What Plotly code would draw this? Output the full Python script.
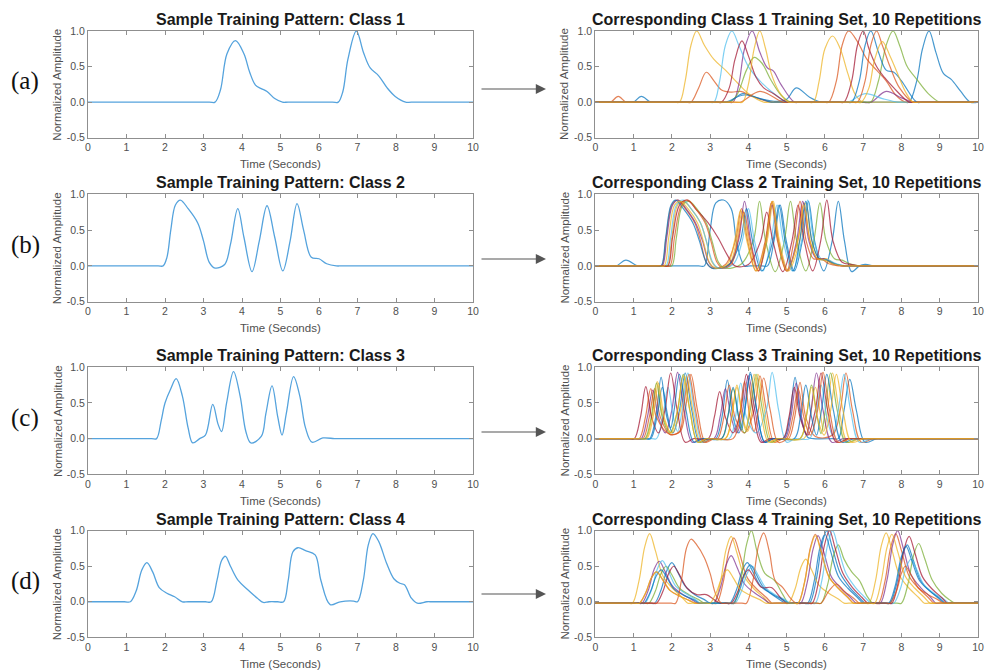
import plotly.graph_objects as go

# ---------------- data ----------------
time_ticks = [0, 1, 2, 3, 4, 5, 6, 7, 8, 9, 10]
amp_ticks = [-0.5, 0.0, 0.5, 1.0]
amp_tick_labels = ["-0.5", "0.0", "0.5", "1.0"]

left_titles = ["Sample Training Pattern: Class 1", "Sample Training Pattern: Class 2",
               "Sample Training Pattern: Class 3", "Sample Training Pattern: Class 4"]
right_titles = ["Corresponding Class 1 Training Set, 10 Repetitions",
                "Corresponding Class 2 Training Set, 10 Repetitions",
                "Corresponding Class 3 Training Set, 10 Repetitions",
                "Corresponding Class 4 Training Set, 10 Repetitions"]
panel_labels = ["(a)", "(b)", "(c)", "(d)"]
x_title = "Time (Seconds)"
y_title = "Normalized Amplitude"

class1_pattern = [(0,0),(3.15,0),(3.3,0),(3.44,0.17),(3.61,0.68),(3.83,0.865),(4.05,0.68),(4.2,0.42),(4.35,0.24),(4.5,0.19),(4.65,0.15),(4.85,0.05),(5.05,0),(5.2,0),(6.35,0),(6.5,0),(6.62,0.15),(6.75,0.6),(6.97,1.0),(7.16,0.69),(7.33,0.48),(7.55,0.37),(7.77,0.2),(7.98,0.08),(8.25,0),(8.4,0),(10,0)]
class2_pattern = [(0,0),(1.82,0),(1.95,0),(2.05,0.12),(2.15,0.5),(2.27,0.85),(2.4,0.92),(2.6,0.8),(2.85,0.6),(3.0,0.35),(3.15,0.05),(3.3,-0.03),(3.55,0.02),(3.7,0.3),(3.89,0.8),(4.05,0.4),(4.26,-0.08),(4.45,0.35),(4.65,0.84),(4.85,0.4),(5.06,-0.07),(5.25,0.35),(5.43,0.87),(5.6,0.5),(5.8,0.12),(6.0,0.1),(6.2,0.03),(6.45,0),(6.6,0),(10,0)]
class3_pattern = [(0,0),(1.65,0),(1.78,0),(1.9,0.25),(2.0,0.5),(2.15,0.7),(2.29,0.84),(2.45,0.6),(2.6,0.15),(2.72,-0.06),(2.9,0.0),(3.05,0.05),(3.24,0.48),(3.38,0.2),(3.47,0.1),(3.6,0.5),(3.78,0.94),(3.95,0.6),(4.1,0.1),(4.23,-0.06),(4.5,0.03),(4.62,0.35),(4.78,0.74),(4.93,0.3),(5.04,0.05),(5.15,0.35),(5.34,0.87),(5.5,0.6),(5.65,0.15),(5.82,-0.05),(6.1,0.01),(6.4,0),(6.55,0),(10,0)]
class4_pattern = [(0,0),(0.95,0),(1.1,0),(1.25,0.15),(1.4,0.45),(1.53,0.55),(1.68,0.42),(1.85,0.2),(2.05,0.12),(2.25,0.07),(2.45,0),(2.6,0),(3.05,0),(3.2,0),(3.35,0.3),(3.47,0.58),(3.57,0.64),(3.7,0.5),(3.9,0.3),(4.15,0.17),(4.4,0.05),(4.55,-0.01),(4.7,0),(4.93,0),(5.08,0),(5.2,0.3),(5.32,0.7),(5.45,0.76),(5.65,0.72),(5.9,0.66),(6.05,0.3),(6.29,-0.04),(6.55,0),(6.9,0.01),(7.0,0),(7.15,0.3),(7.28,0.8),(7.4,0.96),(7.55,0.85),(7.75,0.55),(7.95,0.32),(8.1,0.26),(8.22,0.24),(8.4,0.05),(8.55,-0.02),(8.8,0),(8.95,0),(10,0)]

class1_reps = [
    [(0,0),(0.85,0),(1.0,0),(1.2,0.08),(1.45,0),(1.6,0),(3.35,0),(3.5,0),(3.85,0.12),(4.3,0.05),(4.75,0.01),(5.0,0.04),(5.25,0.2),(5.6,0.07),(5.9,0),(6.05,0),(8.05,0),(8.2,0),(8.4,0.3),(8.55,0.75),(8.72,1.0),(8.9,0.7),(9.1,0.4),(9.3,0.32),(9.55,0.15),(9.8,0),(10,0)],
    [(0,0),(0.28,0),(0.4,0),(0.6,0.08),(0.8,0),(0.95,0),(2.35,0),(2.5,0),(2.7,0.2),(2.9,0.42),(3.1,0.3),(3.3,0.17),(3.55,0.14),(3.8,0.15),(4.1,0.08),(4.6,0),(4.75,0),(5.95,0),(6.1,0),(6.3,0.3),(6.45,0.8),(6.62,1.0),(6.85,0.85),(7.1,0.6),(7.35,0.45),(7.6,0.3),(7.85,0.1),(8.1,0),(8.25,0),(10,0)],
    [(0,0),(2.05,0),(2.2,0),(2.35,0.3),(2.5,0.8),(2.65,1.0),(2.85,0.8),(3.1,0.6),(3.4,0.45),(3.7,0.28),(4.0,0.12),(4.4,0),(4.55,0),(5.55,0),(5.7,0),(5.85,0.3),(6.0,0.75),(6.2,0.93),(6.4,0.75),(6.6,0.4),(6.8,0.1),(7.0,0),(7.15,0),(10,0)],
    [(0,0),(3.45,0),(3.6,0),(3.75,0.25),(3.9,0.75),(4.1,1.0),(4.3,0.7),(4.5,0.48),(4.65,0.44),(4.85,0.25),(5.2,0),(5.35,0),(6.9,0),(7.2,0),(7.6,0.15),(8.0,0.06),(8.3,0),(8.45,0),(10,0)],
    [(0,0),(3.35,0),(3.5,0),(3.7,0.1),(3.95,0.45),(4.15,0.63),(4.35,0.55),(4.6,0.3),(4.85,0.1),(5.1,0),(5.25,0),(7.05,0),(7.2,0),(7.4,0.3),(7.6,0.8),(7.78,1.0),(7.95,0.8),(8.15,0.5),(8.4,0.32),(8.7,0.12),(9.0,0),(9.15,0),(10,0)],
    [(0,0),(2.95,0),(3.1,0),(3.25,0.3),(3.4,0.8),(3.57,1.0),(3.75,0.8),(4.0,0.5),(4.3,0.3),(4.6,0.15),(5.0,0),(5.15,0),(6.4,0),(6.6,0),(7.05,0.12),(7.5,0.05),(7.9,0),(8.05,0),(10,0)],
    [(0,0),(3.15,0),(3.3,0),(3.5,0.2),(3.65,0.6),(3.83,0.86),(4.0,0.65),(4.2,0.35),(4.4,0.2),(4.65,0.12),(5.0,0),(5.15,0),(6.35,0),(6.5,0),(6.7,0.3),(6.85,0.8),(7.0,1.0),(7.15,0.75),(7.35,0.5),(7.55,0.35),(7.8,0.2),(8.2,0),(8.35,0),(10,0)],
    [(0,0),(3.2,0),(3.4,0),(3.9,0.1),(4.6,0),(4.75,0),(6.55,0),(6.7,0),(6.9,0.3),(7.05,0.8),(7.2,1.0),(7.4,0.7),(7.6,0.45),(7.8,0.42),(8.0,0.3),(8.4,0),(8.55,0),(10,0)],
    [(0,0),(3.6,0),(3.8,0),(4.3,0.15),(4.9,0),(5.05,0),(6.7,0),(6.85,0),(7.05,0.3),(7.2,0.8),(7.35,1.0),(7.5,0.8),(7.7,0.5),(7.95,0.2),(8.3,0),(8.45,0),(10,0)],
    [(0,0),(3.7,0),(3.85,0),(4.0,0.25),(4.15,0.75),(4.3,1.0),(4.45,0.75),(4.6,0.4),(4.8,0.15),(5.05,0),(5.2,0),(6.8,0),(6.95,0),(7.15,0.2),(7.3,0.6),(7.5,0.85),(7.7,0.65),(7.9,0.4),(8.1,0.15),(8.3,0),(8.45,0),(10,0)],
]

class2_reps = [
    [(0,0),(0.42,0),(0.55,0),(0.8,0.08),(1.1,0),(1.25,0),(2.7,0),(2.85,0),(3.0,0.5),(3.15,0.88),(3.35,0.92),(3.55,0.8),(3.7,0.3),(3.9,0),(4.05,0),(4.35,0),(4.5,0),(4.67,0.35),(4.83,0.85),(4.99,0.35),(5.2,-0.07),(5.41,0.35),(5.57,0.9),(5.73,0.35),(5.97,-0.07),(6.19,0.35),(6.35,0.9),(6.51,0.35),(6.7,-0.08),(6.9,0),(7.05,0.02),(7.3,0),(7.45,0),(10,0)],
    [(0,0),(1.6,0),(1.73,0),(1.85,0.4),(2.0,0.85),(2.15,0.92),(2.35,0.8),(2.6,0.6),(2.75,0.35),(2.9,0.05),(3.05,-0.03),(3.4,0.02),(3.66,0.35),(3.82,0.8),(3.98,0.35),(4.2,-0.07),(4.44,0.35),(4.6,0.88),(4.76,0.35),(5.0,-0.07),(5.29,0.35),(5.45,0.88),(5.61,0.35),(5.8,0.1),(6.0,0.1),(6.2,0.03),(6.45,0),(6.6,0),(10,0)],
    [(0,0),(1.75,0),(1.88,0),(2.0,0.4),(2.15,0.85),(2.3,0.9),(2.5,0.8),(2.75,0.6),(2.9,0.35),(3.05,0.05),(3.2,-0.03),(3.5,0.02),(3.69,0.35),(3.85,0.78),(4.01,0.35),(4.25,-0.07),(4.49,0.35),(4.65,0.9),(4.81,0.35),(5.05,-0.07),(5.34,0.35),(5.5,0.88),(5.66,0.35),(5.85,0.1),(6.05,0.1),(6.25,0.03),(6.5,0),(6.65,0),(10,0)],
    [(0,0),(1.62,0),(1.75,0),(1.87,0.4),(2.02,0.85),(2.17,0.92),(2.37,0.8),(2.62,0.6),(2.8,0.35),(2.97,0.05),(3.12,-0.03),(3.5,0.02),(3.74,0.35),(3.9,0.9),(4.06,0.35),(4.27,-0.07),(4.46,0.35),(4.62,0.85),(4.78,0.35),(5.02,-0.07),(5.26,0.35),(5.42,0.9),(5.58,0.35),(5.78,0.1),(5.98,0.1),(6.2,0.03),(6.45,0),(6.6,0),(10,0)],
    [(0,0),(1.87,0),(2.0,0),(2.12,0.4),(2.28,0.85),(2.45,0.9),(2.65,0.8),(2.9,0.6),(3.05,0.35),(3.22,0.05),(3.38,-0.03),(3.8,0.02),(4.13,0.35),(4.29,0.9),(4.45,0.35),(4.7,-0.08),(4.94,0.35),(5.1,0.9),(5.26,0.35),(5.5,-0.07),(5.71,0.35),(5.87,0.88),(6.03,0.35),(6.25,0.1),(6.45,0.08),(6.65,0.03),(6.9,0),(7.05,0),(10,0)],
    [(0,0),(1.72,0),(1.85,0),(1.97,0.4),(2.12,0.85),(2.3,0.92),(2.5,0.8),(2.75,0.6),(2.9,0.35),(3.07,0.05),(3.22,-0.03),(3.6,0.02),(3.84,0.35),(4.0,0.8),(4.16,0.35),(4.38,-0.07),(4.59,0.35),(4.75,0.85),(4.91,0.35),(5.15,-0.07),(5.39,0.35),(5.55,0.92),(5.71,0.35),(5.9,0.1),(6.1,0.08),(6.3,0.03),(6.55,0),(6.7,0),(10,0)],
    [(0,0),(1.77,0),(1.9,0),(2.02,0.4),(2.2,0.85),(2.4,0.92),(2.65,0.78),(2.95,0.6),(3.2,0.4),(3.45,0.15),(3.65,0),(4.0,0.02),(4.32,0.35),(4.48,0.75),(4.64,0.35),(4.9,-0.08),(5.14,0.35),(5.3,0.85),(5.46,0.35),(5.68,-0.07),(5.89,0.35),(6.05,0.92),(6.21,0.35),(6.45,0.05),(6.7,0.02),(6.9,0),(7.05,0),(10,0)],
    [(0,0),(1.59,0),(1.72,0),(1.84,0.4),(1.98,0.85),(2.1,0.92),(2.3,0.8),(2.55,0.6),(2.72,0.35),(2.9,0.05),(3.05,-0.03),(3.5,0.02),(3.79,0.35),(3.95,0.8),(4.11,0.35),(4.35,-0.07),(4.64,0.35),(4.8,0.85),(4.96,0.35),(5.17,-0.07),(5.34,0.35),(5.5,0.9),(5.66,0.35),(5.85,0.1),(6.05,0.08),(6.25,0.03),(6.5,0),(6.65,0),(10,0)],
    [(0,0),(1.82,0),(1.95,0),(2.07,0.4),(2.25,0.85),(2.42,0.92),(2.62,0.8),(2.87,0.6),(3.02,0.35),(3.18,0.05),(3.32,-0.03),(3.55,0.02),(3.72,0.35),(3.88,0.75),(4.04,0.35),(4.26,-0.07),(4.46,0.35),(4.62,0.9),(4.78,0.35),(5.0,-0.07),(5.19,0.35),(5.35,0.9),(5.51,0.35),(5.7,0.1),(5.9,0.1),(6.1,0.03),(6.35,0),(6.5,0),(10,0)],
    [(0,0),(1.67,0),(1.8,0),(1.92,0.4),(2.07,0.85),(2.22,0.9),(2.42,0.8),(2.67,0.6),(2.82,0.35),(2.98,0.05),(3.12,-0.03),(3.45,0.02),(3.64,0.35),(3.8,0.78),(3.96,0.35),(4.2,-0.07),(4.46,0.35),(4.62,0.9),(4.78,0.35),(5.02,-0.07),(5.29,0.35),(5.45,0.85),(5.61,0.35),(5.8,0.1),(6.0,0.08),(6.2,0.03),(6.45,0),(6.6,0),(10,0)],
]

class3_reps = [
    [(0,0),(1.29,0),(1.42,0),(1.58,0.3),(1.72,0.86),(1.87,0.3),(2.03,0.08),(2.2,0.4),(2.35,0.92),(2.52,0.4),(2.73,-0.05),(2.95,0),(3.15,0),(3.31,0.3),(3.45,0.82),(3.6,0.3),(3.75,0.08),(3.9,0.4),(4.05,0.93),(4.22,0.4),(4.43,-0.05),(4.65,0),(4.92,0),(5.08,0.3),(5.22,0.86),(5.37,0.3),(5.55,0.02),(5.7,0),(6.2,0),(6.35,0),(6.5,0.4),(6.65,0.83),(6.82,0.4),(7.05,-0.05),(7.35,0),(7.5,0),(10,0)],
    [(0,0),(1.12,0),(1.25,0),(1.41,0.3),(1.55,0.7),(1.7,0.3),(1.95,0.06),(2.22,0.1),(2.35,0.4),(2.5,0.9),(2.67,0.4),(2.88,-0.05),(3.1,0),(3.2,0),(3.36,0.3),(3.5,0.75),(3.65,0.3),(3.9,0.08),(4.15,0.4),(4.3,0.88),(4.47,0.4),(4.68,-0.05),(4.9,0),(5.05,0),(5.21,0.3),(5.35,0.79),(5.5,0.3),(5.75,0.03),(6.2,0.05),(6.4,0.4),(6.55,0.92),(6.72,0.4),(6.95,-0.05),(7.25,0),(7.4,0),(10,0)],
    [(0,0),(1.19,0),(1.32,0),(1.48,0.3),(1.62,0.8),(1.77,0.3),(2.0,0.08),(2.23,0.4),(2.38,0.88),(2.55,0.4),(2.76,-0.05),(3.0,0),(3.4,0),(3.56,0.3),(3.7,0.75),(3.85,0.3),(3.98,0.1),(4.1,0.4),(4.25,0.9),(4.42,0.4),(4.63,-0.05),(4.85,0),(5.45,0),(5.61,0.3),(5.75,0.72),(5.88,0.35),(5.97,0.1),(6.07,0.4),(6.2,0.92),(6.37,0.4),(6.6,-0.05),(6.9,0),(7.05,0),(10,0)],
    [(0,0),(1.07,0),(1.2,0),(1.36,0.3),(1.5,0.68),(1.65,0.3),(1.83,0.08),(2.0,0.4),(2.15,0.93),(2.32,0.4),(2.53,-0.05),(2.75,0),(3.1,0),(3.26,0.3),(3.4,0.7),(3.55,0.3),(3.7,0.08),(3.85,0.4),(4.0,0.88),(4.17,0.4),(4.38,-0.05),(4.6,0),(4.95,0),(5.11,0.3),(5.25,0.78),(5.39,0.3),(5.52,0.05),(5.64,0.4),(5.78,0.92),(5.95,0.4),(6.18,-0.05),(6.48,0),(6.63,0),(10,0)],
    [(0,0),(1.17,0),(1.3,0),(1.46,0.3),(1.6,0.78),(1.75,0.3),(1.95,0.08),(2.15,0.4),(2.3,0.9),(2.47,0.4),(2.68,-0.05),(2.9,0),(3.3,0),(3.46,0.3),(3.6,0.7),(3.75,0.3),(3.9,0.08),(4.05,0.4),(4.2,0.9),(4.37,0.4),(4.58,-0.05),(4.8,0),(5.35,0),(5.51,0.3),(5.65,0.75),(5.8,0.3),(5.9,0.07),(6.01,0.4),(6.15,0.92),(6.32,0.4),(6.55,-0.05),(6.85,0),(7.0,0),(10,0)],
    [(0,0),(1.47,0),(1.6,0),(1.76,0.3),(1.9,0.72),(2.04,0.3),(2.15,0.1),(2.27,0.4),(2.42,0.92),(2.59,0.4),(2.8,-0.05),(3.02,0),(3.5,0),(3.66,0.3),(3.8,0.78),(3.95,0.3),(4.2,0.08),(4.47,0.4),(4.62,0.93),(4.79,0.4),(5.0,-0.05),(5.22,0),(5.6,0),(5.76,0.3),(5.9,0.75),(6.05,0.3),(6.2,0.05),(6.35,0.4),(6.5,0.9),(6.67,0.4),(6.9,-0.05),(7.2,0),(7.35,0),(10,0)],
    [(0,0),(0.89,0),(1.02,0),(1.18,0.3),(1.32,0.73),(1.47,0.3),(1.65,0.08),(1.82,0.4),(1.97,0.92),(2.14,0.4),(2.35,-0.05),(2.57,0),(2.95,0),(3.11,0.3),(3.25,0.66),(3.4,0.3),(3.6,0.08),(3.8,0.4),(3.95,0.9),(4.12,0.4),(4.33,-0.05),(4.55,0),(4.9,0),(5.06,0.3),(5.2,0.72),(5.35,0.3),(5.55,0.05),(5.75,0.4),(5.9,0.92),(6.07,0.4),(6.3,-0.05),(6.6,0),(6.75,0),(10,0)],
    [(0,0),(1.32,0),(1.45,0),(1.61,0.3),(1.75,0.72),(1.88,0.35),(1.97,0.15),(2.06,0.4),(2.2,0.9),(2.37,0.4),(2.58,-0.05),(2.8,0),(3.3,0),(3.46,0.3),(3.6,0.72),(3.73,0.35),(3.82,0.12),(3.91,0.4),(4.05,0.9),(4.22,0.4),(4.43,-0.05),(4.65,0),(5.2,0),(5.36,0.3),(5.5,0.75),(5.65,0.3),(5.78,0.05),(5.91,0.4),(6.05,0.9),(6.22,0.4),(6.45,-0.05),(6.75,0),(6.9,0),(10,0)],
    [(0,0),(1.02,0),(1.15,0),(1.31,0.3),(1.45,0.7),(1.6,0.3),(1.95,0.06),(2.2,0.1),(2.3,0.4),(2.45,0.9),(2.62,0.4),(2.83,-0.05),(3.05,0),(3.6,0),(3.76,0.3),(3.9,0.8),(4.04,0.3),(4.15,0.1),(4.26,0.4),(4.4,0.85),(4.57,0.4),(4.78,-0.05),(5.0,0),(5.16,0.3),(5.3,0.7),(5.45,0.3),(5.62,0.05),(5.81,0.4),(5.95,0.93),(6.12,0.4),(6.35,-0.05),(6.65,0),(6.8,0),(10,0)],
    [(0,0),(1.22,0),(1.35,0),(1.51,0.3),(1.65,0.78),(1.8,0.3),(1.98,0.08),(2.15,0.4),(2.3,0.88),(2.47,0.4),(2.68,-0.05),(2.9,0),(3.4,0),(3.56,0.3),(3.7,0.72),(3.83,0.35),(3.93,0.12),(4.02,0.4),(4.15,0.9),(4.32,0.4),(4.53,-0.05),(4.75,0),(5.35,0),(5.51,0.3),(5.65,0.72),(5.8,0.3),(5.98,0.05),(6.15,0.4),(6.3,0.9),(6.47,0.4),(6.7,-0.05),(7.0,0),(7.15,0),(10,0)],
]

class4_reps = [
    [(0,-0.02),(1.43,-0.02),(1.55,-0.02),(1.72,0.17),(1.87,0.44),(2.0,0.55),(2.15,0.42),(2.35,0.22),(2.6,0.1),(2.85,0.03),(3.0,-0.02),(3.12,-0.02),(3.4,-0.02),(3.52,-0.02),(3.69,0.17),(3.84,0.44),(3.97,0.55),(4.12,0.42),(4.32,0.22),(4.57,0.12),(4.82,0.03),(4.97,-0.02),(5.09,-0.02),(5.48,-0.02),(5.6,-0.02),(5.77,0.3),(5.92,0.8),(6.05,1.0),(6.2,0.75),(6.4,0.4),(6.65,0.2),(6.9,0.06),(7.05,-0.02),(7.17,-0.02),(7.58,-0.02),(7.7,-0.02),(7.87,0.24),(8.02,0.64),(8.15,0.8),(8.3,0.6),(8.5,0.3),(8.75,0.15),(9.0,0.05),(9.15,-0.02),(9.27,-0.02),(10,-0.02)],
    [(0,-0.02),(1.03,-0.02),(1.15,-0.02),(1.32,0.13),(1.47,0.34),(1.6,0.42),(1.75,0.32),(1.95,0.16),(2.2,0.08),(2.45,0.02),(2.6,-0.02),(2.72,-0.02),(3.05,-0.02),(3.17,-0.02),(3.34,0.27),(3.49,0.72),(3.62,0.9),(3.77,0.68),(3.97,0.34),(4.22,0.18),(4.47,0.06),(4.62,-0.02),(4.74,-0.02),(5.18,-0.02),(5.3,-0.02),(5.47,0.28),(5.62,0.76),(5.75,0.95),(5.9,0.72),(6.1,0.36),(6.35,0.19),(6.6,0.06),(6.75,-0.02),(6.87,-0.02),(7.28,-0.02),(7.4,-0.02),(7.57,0.29),(7.72,0.77),(7.85,0.96),(8.0,0.72),(8.2,0.36),(8.45,0.19),(8.7,0.06),(8.85,-0.02),(8.97,-0.02),(10,-0.02)],
    [(0,-0.02),(0.85,-0.02),(0.97,-0.02),(1.14,0.29),(1.29,0.77),(1.42,0.96),(1.57,0.72),(1.77,0.36),(2.02,0.19),(2.27,0.06),(2.42,-0.02),(2.54,-0.02),(2.98,-0.02),(3.1,-0.02),(3.27,0.28),(3.42,0.74),(3.55,0.92),(3.7,0.69),(3.9,0.35),(4.15,0.18),(4.4,0.06),(4.55,-0.02),(4.67,-0.02),(4.93,-0.02),(5.05,-0.02),(5.22,0.18),(5.37,0.48),(5.5,0.6),(5.65,0.45),(5.85,0.23),(6.1,0.12),(6.35,0.04),(6.5,-0.02),(6.62,-0.02),(7.03,-0.02),(7.15,-0.02),(7.32,0.29),(7.47,0.78),(7.6,0.97),(7.75,0.73),(7.95,0.37),(8.2,0.19),(8.45,0.06),(8.6,-0.02),(8.72,-0.02),(10,-0.02)],
    [(0,-0.02),(1.1,-0.02),(1.22,-0.02),(1.39,0.17),(1.54,0.46),(1.67,0.57),(1.82,0.43),(2.02,0.22),(2.27,0.11),(2.52,0.03),(2.67,-0.02),(2.79,-0.02),(2.98,-0.02),(3.1,-0.02),(3.27,0.2),(3.42,0.52),(3.55,0.65),(3.7,0.49),(3.9,0.25),(4.15,0.13),(4.4,0.04),(4.55,-0.02),(4.67,-0.02),(5.25,-0.02),(5.37,-0.02),(5.54,0.28),(5.69,0.74),(5.82,0.93),(5.97,0.7),(6.17,0.35),(6.42,0.19),(6.67,0.06),(6.82,-0.02),(6.94,-0.02),(7.33,-0.02),(7.45,-0.02),(7.62,0.3),(7.77,0.8),(7.9,1.0),(8.05,0.75),(8.25,0.38),(8.5,0.2),(8.75,0.07),(8.9,-0.02),(9.02,-0.02),(10,-0.02)],
    [(0,-0.02),(1.28,-0.02),(1.4,-0.02),(1.57,0.15),(1.72,0.4),(1.85,0.5),(2.0,0.38),(2.2,0.19),(2.45,0.1),(2.7,0.03),(2.85,-0.02),(2.97,-0.02),(3.51,-0.02),(3.63,-0.02),(3.8,0.3),(3.95,0.8),(4.08,1.0),(4.23,0.7),(4.43,0.4),(4.68,0.3),(4.9,0.1),(5.05,-0.02),(5.17,-0.02),(5.78,-0.02),(5.9,-0.02),(6.07,0.24),(6.22,0.64),(6.35,0.8),(6.5,0.6),(6.7,0.42),(6.9,0.3),(7.1,0.08),(7.25,-0.02),(7.37,-0.02),(7.88,-0.02),(8.0,-0.02),(8.17,0.25),(8.32,0.66),(8.45,0.82),(8.6,0.62),(8.8,0.31),(9.05,0.12),(9.25,0.03),(9.4,-0.02),(9.52,-0.02),(10,-0.02)],
    [(0,-0.02),(1.18,-0.02),(1.3,-0.02),(1.47,0.17),(1.62,0.46),(1.75,0.58),(1.9,0.44),(2.1,0.22),(2.35,0.12),(2.6,0.04),(2.75,-0.02),(2.87,-0.02),(3.53,-0.02),(3.65,-0.02),(3.82,0.15),(3.97,0.4),(4.1,0.5),(4.25,0.38),(4.45,0.2),(4.7,0.1),(4.95,0.03),(5.1,-0.02),(5.22,-0.02),(5.63,-0.02),(5.75,-0.02),(5.92,0.3),(6.07,0.8),(6.2,1.0),(6.35,0.75),(6.55,0.4),(6.8,0.2),(7.05,0.06),(7.2,-0.02),(7.32,-0.02),(7.68,-0.02),(7.8,-0.02),(7.97,0.18),(8.12,0.48),(8.25,0.6),(8.4,0.45),(8.6,0.23),(8.85,0.12),(9.1,0.04),(9.25,-0.02),(9.37,-0.02),(10,-0.02)],
    [(0,-0.02),(1.48,-0.02),(1.6,-0.02),(1.77,0.15),(1.92,0.4),(2.05,0.5),(2.2,0.38),(2.4,0.19),(2.65,0.1),(2.9,0.1),(3.1,0.03),(3.25,-0.02),(3.4,-0.02),(3.55,-0.02),(3.72,0.14),(3.87,0.36),(4.0,0.45),(4.15,0.34),(4.35,0.2),(4.6,0.2),(4.85,0.05),(5.0,-0.02),(5.12,-0.02),(5.55,-0.02),(5.67,-0.02),(5.84,0.3),(5.99,0.8),(6.12,1.0),(6.27,0.75),(6.47,0.4),(6.72,0.2),(6.97,0.06),(7.12,-0.02),(7.24,-0.02),(7.63,-0.02),(7.75,-0.02),(7.92,0.28),(8.07,0.74),(8.2,0.92),(8.35,0.69),(8.55,0.35),(8.8,0.18),(9.05,0.06),(9.2,-0.02),(9.32,-0.02),(10,-0.02)],
    [(0,-0.02),(1.15,-0.02),(1.27,-0.02),(1.44,0.14),(1.59,0.36),(1.72,0.45),(1.87,0.34),(2.07,0.17),(2.32,0.09),(2.57,0.03),(2.72,-0.02),(2.84,-0.02),(3.48,-0.02),(3.6,-0.02),(3.77,0.16),(3.92,0.42),(4.05,0.52),(4.2,0.39),(4.4,0.2),(4.65,0.1),(4.9,0.03),(5.05,-0.02),(5.17,-0.02),(5.43,-0.02),(5.55,-0.02),(5.72,0.29),(5.87,0.76),(6.0,0.95),(6.15,0.71),(6.35,0.36),(6.6,0.19),(6.85,0.06),(7.0,-0.02),(7.12,-0.02),(7.55,-0.02),(7.67,-0.02),(7.84,0.23),(7.99,0.62),(8.12,0.78),(8.27,0.58),(8.47,0.3),(8.72,0.16),(8.97,0.05),(9.12,-0.02),(9.24,-0.02),(10,-0.02)],
    [(0,-0.02),(1.98,-0.02),(2.1,-0.02),(2.25,0.3),(2.38,0.75),(2.5,0.88),(2.65,0.8),(2.85,0.62),(3.0,0.4),(3.15,0.1),(3.3,-0.02),(3.42,-0.02),(3.83,-0.02),(3.95,-0.02),(4.12,0.3),(4.27,0.8),(4.4,0.97),(4.55,0.7),(4.7,0.3),(4.9,0.2),(5.1,0.05),(5.25,-0.02),(5.37,-0.02),(5.78,-0.02),(5.9,-0.02),(6.1,0.15),(6.3,0.25),(6.5,0.15),(6.75,0.05),(6.9,-0.02),(7.02,-0.02),(7.58,-0.02),(7.7,-0.02),(7.87,0.15),(8.0,0.4),(8.1,0.5),(8.25,0.38),(8.45,0.19),(8.7,0.1),(8.95,0.03),(9.1,-0.02),(9.22,-0.02),(10,-0.02)],
    [(0,-0.02),(1.03,-0.02),(1.15,-0.02),(1.32,0.13),(1.47,0.34),(1.6,0.42),(1.75,0.32),(1.95,0.16),(2.2,0.08),(2.45,0.02),(2.6,-0.02),(2.72,-0.02),(2.88,-0.02),(3.0,-0.02),(3.17,0.14),(3.32,0.36),(3.45,0.45),(3.6,0.34),(3.8,0.17),(4.05,0.09),(4.3,0.03),(4.45,-0.02),(4.57,-0.02),(5.18,-0.02),(5.3,-0.02),(5.47,0.28),(5.62,0.74),(5.75,0.93),(5.9,0.7),(6.1,0.35),(6.35,0.19),(6.6,0.06),(6.75,-0.02),(6.87,-0.02),(7.18,-0.02),(7.3,-0.02),(7.47,0.29),(7.62,0.76),(7.75,0.95),(7.9,0.71),(8.1,0.36),(8.35,0.19),(8.6,0.06),(8.75,-0.02),(8.87,-0.02),(10,-0.02)],
]

patterns = [class1_pattern, class2_pattern, class3_pattern, class4_pattern]
rep_sets = [class1_reps, class2_reps, class3_reps, class4_reps]

# ---------------- styling / layout ----------------
W, H = 986, 670
rep_colors = ["#0072BD", "#D95319", "#EDB120", "#7E2F8E", "#77AC30", "#4DBEEE", "#A2142F"]
pattern_color = "#55A3DD"
frame_color = "#8f8f8f"
text_gray = "#505050"
FONT = "Liberation Sans, Arial, sans-serif"

left_px = (88.0, 473.0)
right_px = (595.3, 978.0)
rows_px = [(31.0, 137.7), (194.3, 301.7), (367.3, 474.3), (530.7, 637.3)]
arrow_y_px = [89, 259, 432, 594]

def fx(px):
    return px / W

def fy(py):
    return 1 - py / H

fig = go.Figure()
layout_axes = {}
annotations = []

for r in range(4):
    top, bot = rows_px[r]
    for c in range(2):
        idx = r * 2 + c + 1
        xname = "x" if idx == 1 else f"x{idx}"
        yname = "y" if idx == 1 else f"y{idx}"
        xl, xr = left_px if c == 0 else right_px
        common = dict(showline=True, mirror="ticks", linecolor=frame_color, linewidth=1,
                      ticks="inside", ticklen=4, tickcolor=frame_color, tickwidth=1,
                      showgrid=False, zeroline=False, automargin=False,
                      tickfont=dict(family=FONT, size=10.5, color=text_gray))
        layout_axes["xaxis" if idx == 1 else f"xaxis{idx}"] = dict(
            domain=[fx(xl), fx(xr)], range=[0, 10], tickvals=time_ticks,
            anchor=yname, **common)
        layout_axes["yaxis" if idx == 1 else f"yaxis{idx}"] = dict(
            domain=[fy(bot), fy(top)], range=[-0.5, 1.0], tickvals=amp_ticks,
            ticktext=amp_tick_labels, anchor=xname, **common)

        if c == 0:
            pts = patterns[r]
            fig.add_trace(go.Scatter(
                x=[p[0] for p in pts], y=[p[1] for p in pts], mode="lines",
                line=dict(color=pattern_color, width=1.3, shape="spline", smoothing=1.0),
                xaxis=xname, yaxis=yname, hoverinfo="skip"))
            title = left_titles[r]
        else:
            for k, pts in enumerate(rep_sets[r]):
                fig.add_trace(go.Scatter(
                    x=[p[0] for p in pts], y=[p[1] for p in pts], mode="lines",
                    line=dict(color=rep_colors[k % 7], width=1.2, shape="spline", smoothing=1.0),
                    opacity=0.72, xaxis=xname, yaxis=yname, hoverinfo="skip"))
            title = right_titles[r]

        cx = (xl + xr) / 2
        annotations.append(dict(text=f"<b>{title}</b>", x=fx(cx), y=fy(top - 11.5),
                                xref="paper", yref="paper", showarrow=False,
                                xanchor="center", yanchor="middle",
                                font=dict(family=FONT, size=16, color="#1a1a1a")))
        annotations.append(dict(text=x_title, x=fx(cx), y=fy(bot + 26.3),
                                xref="paper", yref="paper", showarrow=False,
                                xanchor="center", yanchor="middle",
                                font=dict(family=FONT, size=11.5, color=text_gray)))
        annotations.append(dict(text=y_title, x=fx(xl - 30.7), y=fy((top + bot) / 2),
                                xref="paper", yref="paper", showarrow=False, textangle=-90,
                                xanchor="center", yanchor="middle",
                                font=dict(family=FONT, size=11.5, color=text_gray)))

    annotations.append(dict(text=panel_labels[r], x=fx(25), y=fy((top + bot) / 2 - 3),
                            xref="paper", yref="paper", showarrow=False,
                            xanchor="center", yanchor="middle",
                            font=dict(family="Liberation Serif, Times New Roman, serif",
                                      size=25, color="#111111")))
    annotations.append(dict(text="", x=fx(546), y=fy(arrow_y_px[r]), xref="paper", yref="paper",
                            showarrow=True, ax=-66, ay=0, axref="pixel", ayref="pixel",
                            arrowhead=2, arrowsize=1.7, arrowwidth=1.2, arrowcolor="#555555"))

fig.update_layout(template="none", width=W, height=H, autosize=False,
                  margin=dict(l=0, r=0, t=0, b=0, pad=0, autoexpand=False),
                  paper_bgcolor="white", plot_bgcolor="white", showlegend=False,
                  hovermode=False, annotations=annotations, **layout_axes)

# The page's default 8 px body margin would push the fixed-size figure out of the
# 986x670 window; remove it so the figure fills the window exactly.
page_fix = "document.body.style.margin='0';document.body.style.overflow='hidden';"
fig.write_html("out.html", post_script=page_fix,
               config={"displayModeBar": False, "staticPlot": True})
